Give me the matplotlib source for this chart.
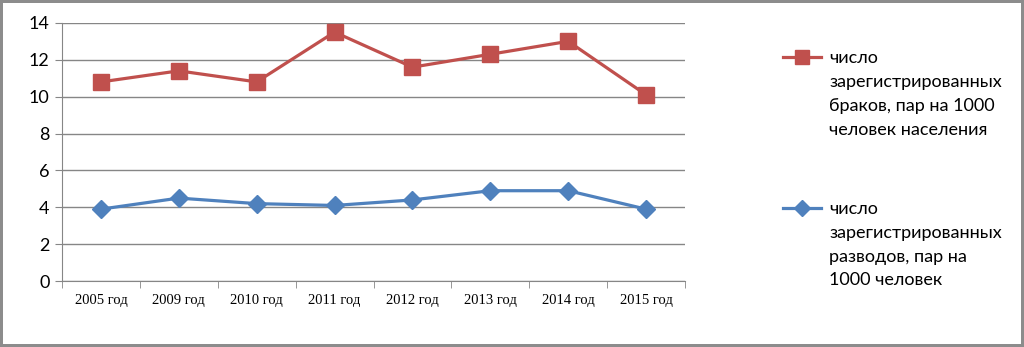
import matplotlib.pyplot as plt
import numpy as np

years = ["2005 год", "2009 год", "2010 год", "2011 год",
         "2012 год", "2013 год", "2014 год", "2015 год"]
marriages = [10.8, 11.4, 10.8, 13.5, 11.6, 12.3, 13.0, 10.1]
divorces = [3.9, 4.5, 4.2, 4.1, 4.4, 4.9, 4.9, 3.9]
label_marriages = ["число", "зарегистрированных", "браков, пар на 1000",
                   "человек населения"]
label_divorces = ["число", "зарегистрированных", "разводов, пар на",
                  "1000 человек"]

red = "#C0504D"
blue = "#4F81BD"
grid = "#868686"
W, H = 1024, 347

fig = plt.figure(figsize=(W / 100, H / 100), dpi=100)
fig.patch.set_edgecolor("#8c8c8c")
fig.patch.set_linewidth(3)
ax = fig.add_axes([0.0605, 0.19, 0.6085, 0.744])

x = np.arange(len(years))
l1, = ax.plot(x, marriages, color=red, lw=2.3, marker="s", ms=11.5, zorder=3)
l2, = ax.plot(x, divorces, color=blue, lw=2.3, marker="D", ms=9.5, zorder=3)

ax.set_xlim(-0.5, len(years) - 0.5)
ax.set_ylim(0, 14)
ax.set_yticks(range(0, 15, 2))
ax.set_xticks(x)
ax.set_xticklabels(years, family="Liberation Serif", fontsize=10.5)
ax.set_xticks(np.arange(-0.5, len(years)), minor=True)
ax.tick_params(axis="x", which="major", length=0, pad=9)
ax.tick_params(axis="x", which="minor", length=5, color=grid, direction="out")
ax.tick_params(axis="y", length=5, color=grid, pad=4)
for t in ax.get_yticklabels():
    t.set_family("Lato")
    t.set_fontsize(13)
ax.yaxis.grid(True, color=grid, lw=1)
ax.set_axisbelow(True)
for s in ["top", "right"]:
    ax.spines[s].set_visible(False)
ax.spines["left"].set_color(grid)
ax.spines["bottom"].set_color(grid)

# legend: handle sits on the first line, rest of label goes below it
leg_kw = dict(frameon=False, handlelength=2.1, handletextpad=0.45,
              prop={"family": "Lato", "size": 13}, loc="center left",
              borderaxespad=0, borderpad=0, markerscale=0.85)
leg1 = fig.legend([l1], [label_marriages[0]], bbox_to_anchor=(0.765, 0.833), **leg_kw)
leg2 = fig.legend([l2], [label_divorces[0]], bbox_to_anchor=(0.765, 0.398), **leg_kw)

fig.canvas.draw()
for leg, lines in [(leg1, label_marriages), (leg2, label_divorces)]:
    bb = leg.get_texts()[0].get_window_extent()
    fig.text(bb.x0 / W, (bb.y1 - 24) / H, "\n".join(lines[1:]), va="top",
             family="Lato", fontsize=13, linespacing=1.6)

fig.savefig("out.png", dpi=100)
